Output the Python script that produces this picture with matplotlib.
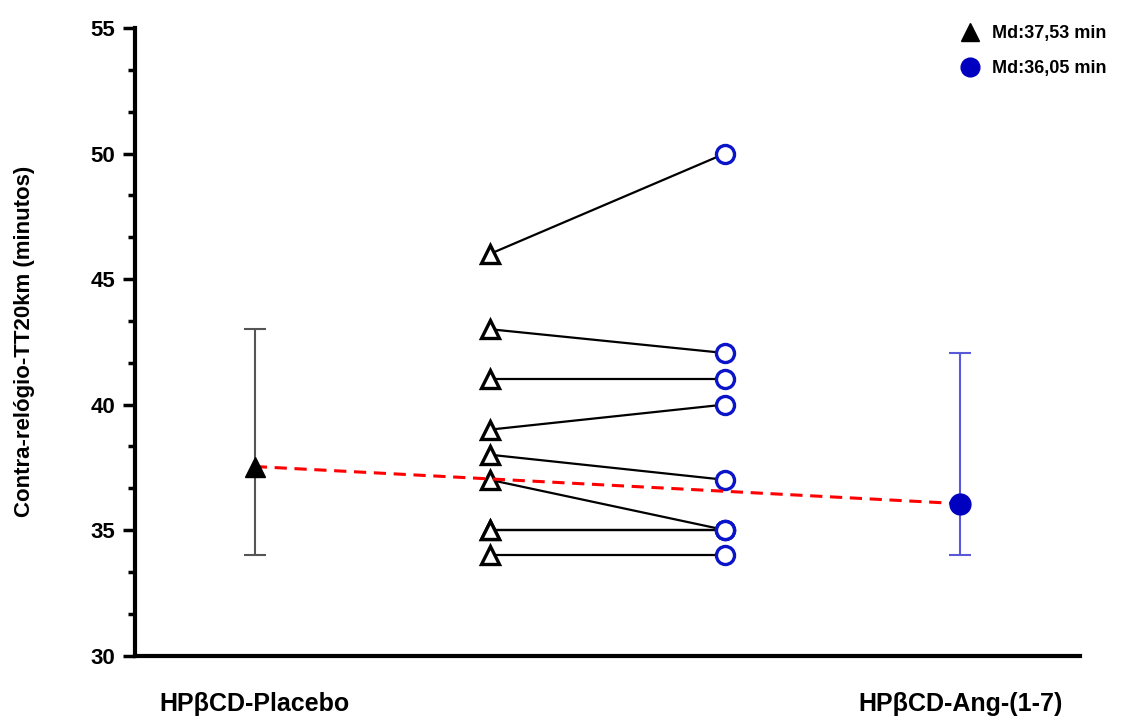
import matplotlib.pyplot as plt
from matplotlib.ticker import MultipleLocator, AutoMinorLocator

plt.rcParams['font.family'] = ['Liberation Sans', 'DejaVu Sans']
plt.rcParams['font.weight'] = 'bold'
plt.rcParams['axes.labelweight'] = 'bold'

# individual paired values (minutes)
placebo = [46, 43, 41, 39, 38, 37, 35, 35, 34]
ang = [50, 42.05, 41, 40, 37, 35, 35, 35, 34]

# medians and ranges
groups = ["HPβCD-Placebo", "HPβCD-Ang-(1-7)"]
medians = [37.53, 36.05]
mins = [34, 34]
maxs = [43, 42.05]
legend_labels = ["Md:37,53 min", "Md:36,05 min"]

x_med = [1, 4]
x_pair = [2, 3]

fig = plt.figure(figsize=(11.24, 7.18), dpi=100)
ax = fig.add_axes([0.12, 0.087, 0.841, 0.874])

# paired lines
for p, a in zip(placebo, ang):
    ax.plot(x_pair, [p, a], color='black', lw=1.6, zorder=2)
ax.plot([x_pair[0]] * len(placebo), placebo, linestyle='none', marker='^',
        markersize=13, markerfacecolor='white', markeredgecolor='black',
        markeredgewidth=2.4, zorder=3)
ax.plot([x_pair[1]] * len(ang), ang, linestyle='none', marker='o',
        markersize=13, markerfacecolor='white', markeredgecolor='#0a14c8',
        markeredgewidth=2.4, zorder=3)

# median with range
ax.errorbar(x_med[0], medians[0],
            yerr=[[medians[0] - mins[0]], [maxs[0] - medians[0]]],
            fmt='none', ecolor='#555555', elinewidth=1.5, capsize=8, capthick=1.5, zorder=2)
ax.errorbar(x_med[1], medians[1],
            yerr=[[medians[1] - mins[1]], [maxs[1] - medians[1]]],
            fmt='none', ecolor='#5a5ad8', elinewidth=1.5, capsize=8, capthick=1.5, zorder=2)
ax.plot(x_med, medians, color='red', linestyle=(0, (4, 2.5)), lw=2.2, zorder=4)
h1, = ax.plot(x_med[0], medians[0], linestyle='none', marker='^', markersize=14,
              color='black', zorder=5)
h2, = ax.plot(x_med[1], medians[1], linestyle='none', marker='o', markersize=15,
              color='#0000c0', zorder=5)

ax.set_xlim(0.49, 4.51)
ax.set_ylim(30, 55)
ax.yaxis.set_major_locator(MultipleLocator(5))
ax.yaxis.set_minor_locator(AutoMinorLocator(3))
ax.tick_params(axis='y', which='major', length=9, width=2.5, labelsize=16, pad=5)
ax.tick_params(axis='y', which='minor', length=5, width=2.5)
ax.set_xticks(x_med)
ax.set_xticklabels(groups, fontsize=18)
ax.tick_params(axis='x', length=0, pad=26)
ax.spines['top'].set_visible(False)
ax.spines['right'].set_visible(False)
ax.spines['left'].set_linewidth(3)
ax.spines['bottom'].set_linewidth(3)
ax.set_ylabel("Contra-relógio-TT20km (minutos)", fontsize=16, labelpad=40)

ax.legend([h1, h2], legend_labels, loc='upper right', bbox_to_anchor=(1.045, 1.03),
          frameon=False, fontsize=13, handletextpad=0.2, markerscale=0.9,
          labelspacing=1.0)

fig.savefig("out.png", dpi=100)
